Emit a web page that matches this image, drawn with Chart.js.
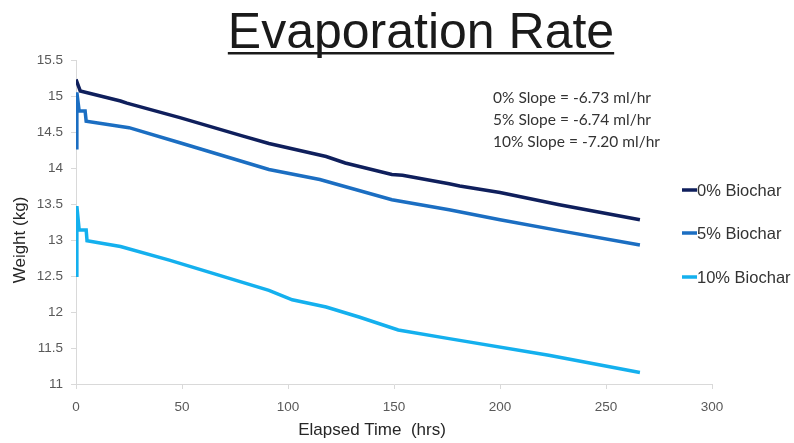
<!DOCTYPE html>
<html>
<head>
<meta charset="utf-8">
<script src="https://cdn.jsdelivr.net/npm/chart.js@4/dist/chart.umd.min.js"></script>
<style>
  html, body { margin: 0; padding: 0; background: #ffffff; }
  #wrap { width: 794px; height: 443px; }
</style>
</head>
<body>
<div id="wrap"><canvas id="c" width="794" height="443"></canvas></div>
<script>
const chartTitle = 'Evaporation Rate';
const xAxisTitle = 'Elapsed Time  (hrs)';
const yAxisTitle = 'Weight (kg)';
const seriesLabels = ['0% Biochar', '5% Biochar', '10% Biochar'];
const seriesColors = ['#0f1f5c', '#1b6ec2', '#14b0ee'];
const slopeNotes = ['0% Slope = -6.73 ml/hr', '5% Slope = -6.74 ml/hr', '10% Slope = -7.20 ml/hr'];

const hours0  = [0, 2, 21, 24, 49, 78, 91, 118, 127, 149, 154, 176, 181, 200, 228, 266];
const weight0 = [15.23, 15.07, 14.93, 14.90, 14.70, 14.45, 14.34, 14.16, 14.07, 13.91, 13.90, 13.78, 13.75, 13.66, 13.49, 13.28];

const hours5  = [0, 0.4, 1.5, 4.3, 4.8, 25, 49, 91, 115, 149, 176, 200, 228, 266];
const weight5 = [14.28, 15.05, 14.79, 14.79, 14.65, 14.56, 14.35, 13.98, 13.84, 13.56, 13.42, 13.28, 13.13, 12.93];

const hours10  = [0, 0.4, 1.5, 4.8, 5.2, 21, 44, 91, 102, 118, 133.5, 152, 176, 223, 266];
const weight10 = [12.51, 13.47, 13.14, 13.14, 12.99, 12.91, 12.72, 12.30, 12.17, 12.07, 11.93, 11.75, 11.63, 11.40, 11.16];

const xMin = 0, xMax = 300, xStep = 50;
const yMin = 11, yMax = 15.5, yStep = 0.5;

function pts(xs, ys) { return xs.map((x, i) => ({ x: x, y: ys[i] })); }
const allHours = [hours0, hours5, hours10];
const allWeights = [weight0, weight5, weight10];

const datasets = seriesLabels.map((lab, i) => ({
  label: lab,
  data: pts(allHours[i], allWeights[i]),
  borderColor: seriesColors[i],
  backgroundColor: seriesColors[i],
  borderWidth: 3.5,
  pointRadius: 0,
  tension: 0,
  fill: false
}));

const FONT = '"Liberation Sans", Arial, sans-serif';

const decor = {
  id: 'decor',
  afterDraw(chart) {
    const ctx = chart.ctx;
    const ca = chart.chartArea;
    ctx.save();
    // Title with underline
    ctx.fillStyle = '#1a1a1a';
    ctx.font = '50px ' + FONT;
    ctx.textAlign = 'center';
    ctx.textBaseline = 'alphabetic';
    const tx = 421, ty = 48;
    ctx.fillText(chartTitle, tx, ty);
    const tw = ctx.measureText(chartTitle).width;
    ctx.fillRect(tx - tw / 2, ty + 4, tw, 2.5);

    // Axis titles
    ctx.fillStyle = '#262626';
    ctx.font = '17px ' + FONT;
    ctx.textBaseline = 'middle';
    ctx.fillText(xAxisTitle, (ca.left + ca.right) / 2 - 22, 430);
    ctx.save();
    ctx.translate(20, 240);
    ctx.rotate(-Math.PI / 2);
    ctx.fillText(yAxisTitle, 0, 0);
    ctx.restore();

    // Slope notes
    ctx.fillStyle = '#333333';
    ctx.font = '15.5px Lato, ' + FONT;
    ctx.textAlign = 'left';
    slopeNotes.forEach((s, i) => ctx.fillText(s, 493, 98 + i * 22));

    // Legend
    ctx.font = '16.5px ' + FONT;
    const ly = [190, 233, 277];
    seriesLabels.forEach((lab, i) => {
      ctx.strokeStyle = seriesColors[i];
      ctx.lineWidth = 3.5;
      ctx.beginPath();
      ctx.moveTo(682, ly[i]);
      ctx.lineTo(697, ly[i]);
      ctx.stroke();
      ctx.fillStyle = '#333333';
      ctx.fillText(lab, 697, ly[i] + 1);
    });
    ctx.restore();
  }
};

new Chart(document.getElementById('c'), {
  type: 'line',
  data: { datasets: datasets },
  options: {
    responsive: false,
    animation: false,
    layout: { padding: { left: 0, right: 82, top: 60, bottom: 0 } },
    plugins: { legend: { display: false }, title: { display: false }, tooltip: { enabled: false } },
    scales: {
      x: {
        type: 'linear',
        min: xMin, max: xMax,
        ticks: { stepSize: xStep, color: '#595959', font: { size: 13.5, family: FONT }, padding: 10 },
        grid: { drawOnChartArea: false, drawTicks: true, tickLength: 5, color: '#d9d9d9' },
        border: { display: true, color: '#d9d9d9', width: 1 },
        afterFit(s) { s.height = 59; }
      },
      y: {
        min: yMin, max: yMax,
        ticks: { stepSize: yStep, color: '#595959', font: { size: 13.5, family: FONT }, padding: 8,
                 callback: v => String(v) },
        grid: { drawOnChartArea: false, drawTicks: true, tickLength: 5, color: '#d9d9d9' },
        border: { display: true, color: '#d9d9d9', width: 1 },
        afterFit(s) { s.width = 76; }
      }
    }
  },
  plugins: [decor]
});
</script>
</body>
</html>
